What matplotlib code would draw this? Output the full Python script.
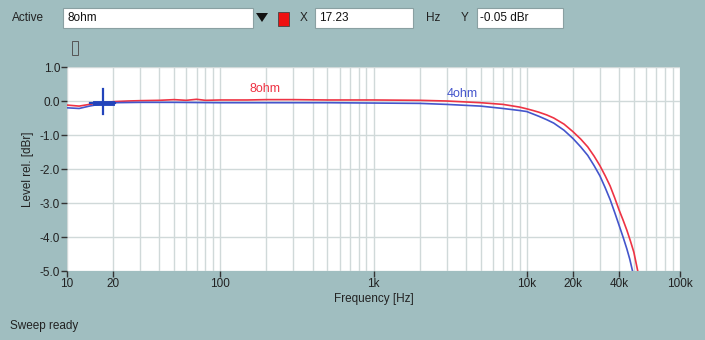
import matplotlib

matplotlib.use("Agg")
import matplotlib.pyplot as plt
from matplotlib.patches import Rectangle, Polygon
from matplotlib.ticker import FixedLocator, LogLocator, NullFormatter

plt.rcParams["font.family"] = ["Liberation Sans", "DejaVu Sans"]

# frequency response
freq_8ohm = [10, 12, 14, 17, 20, 25, 30, 40, 50, 60, 70, 80, 100, 150, 200, 300, 500,
             1000, 2000, 3000, 5000, 7000, 9000, 10000, 11000, 12000, 13500, 15000,
             17500, 20000, 22500, 25000, 27500, 30000, 32500, 35000, 37500, 40000,
             42500, 45000, 47500, 50000, 53000]
level_8ohm = [-0.12, -0.15, -0.10, -0.05, -0.02, 0.0, 0.01, 0.02, 0.04, 0.02, 0.05, 0.02,
              0.03, 0.03, 0.04, 0.04, 0.03, 0.03, 0.02, 0.0, -0.05, -0.10, -0.18, -0.23,
              -0.28, -0.33, -0.41, -0.50, -0.68, -0.90, -1.12, -1.35, -1.62, -1.90,
              -2.20, -2.50, -2.85, -3.20, -3.50, -3.80, -4.12, -4.45, -5.0]

freq_4ohm = [10, 12, 14, 17, 20, 30, 50, 100, 200, 500, 1000, 2000, 3000, 5000, 7000,
             9000, 10000, 12000, 13500, 15000, 17500, 20000, 22500, 25000, 27500, 30000,
             32500, 35000, 37500, 40000, 42500, 45000, 47000, 49000]
level_4ohm = [-0.20, -0.22, -0.15, -0.08, -0.05, -0.04, -0.04, -0.05, -0.05, -0.05, -0.06,
              -0.07, -0.10, -0.15, -0.22, -0.28, -0.31, -0.45, -0.55, -0.65, -0.86, -1.10,
              -1.35, -1.60, -1.90, -2.20, -2.55, -2.90, -3.28, -3.65, -4.00, -4.35, -4.65,
              -5.0]

x_ticks = [10, 20, 100, 1000, 10000, 20000, 40000, 100000]
x_labels = ["10", "20", "100", "1k", "10k", "20k", "40k", "100k"]
y_ticks = [1.0, 0.0, -1.0, -2.0, -3.0, -4.0, -5.0]

cursor_x = 17.23
cursor_y = -0.05

BG = "#a0bec0"
RED = "#ee3344"
BLUE = "#4455cc"
W, H = 705, 340

fig = plt.figure(figsize=(W / 100, H / 100), dpi=100)
fig.patch.set_facecolor(BG)


def px(x, y):
    return x / W, 1 - y / H


ax = fig.add_axes([67 / W, 1 - 271 / H, (680 - 67) / W, (271 - 67) / H])
ax.set_facecolor("white")
ax.set_xscale("log")
ax.set_xlim(10, 100000)
ax.set_ylim(-5.0, 1.0)

ax.xaxis.set_minor_locator(LogLocator(base=10, subs=range(2, 10)))
ax.xaxis.set_minor_formatter(NullFormatter())
ax.grid(True, which="both", axis="x", color="#d0d9d9", lw=1.0)
ax.grid(True, which="major", axis="y", color="#d0d9d9", lw=1.0)
ax.set_axisbelow(True)

ax.xaxis.set_major_locator(FixedLocator(x_ticks))
ax.set_xticklabels(x_labels)
ax.set_yticks(y_ticks)
ax.set_yticklabels([f"{v:.1f}" for v in y_ticks])
ax.tick_params(axis="both", which="major", direction="out", length=4, width=1,
               color="#333333", labelsize=8.5, labelcolor="#222222", pad=1)
ax.tick_params(axis="x", which="minor", length=0)
for s in ax.spines.values():
    s.set_visible(False)

ax.plot(freq_8ohm, level_8ohm, color=RED, lw=1.2)
ax.plot(freq_4ohm, level_4ohm, color=BLUE, lw=1.2)

ax.text(195, 0.34, "8ohm", color=RED, fontsize=9, ha="center", va="center")
ax.text(3800, 0.2, "4ohm", color=BLUE, fontsize=9, ha="center", va="center")

# cursor cross
ax.plot([cursor_x, cursor_x], [cursor_y - 0.33, cursor_y + 0.40], color="#2244bb", lw=1.6)
ax.plot([14.1, 20.6], [cursor_y, cursor_y], color="#2244bb", lw=1.6)
ax.plot([15.2, 19.8], [cursor_y, cursor_y], color="#2244bb", lw=3.5)

ax.set_xlabel("Frequency [Hz]", fontsize=8.5, color="#222222", labelpad=2)
ax.set_ylabel("Level rel. [dBr]", fontsize=8.5, color="#222222", labelpad=4)

# toolbar on top
fig.text(*px(12, 18), "Active", fontsize=8.5, va="center", color="#222222")
fig.add_artist(Rectangle(px(63, 28), 190 / W, 20 / H, transform=fig.transFigure,
                         facecolor="white", edgecolor="#8aa0a2", lw=0.8))
fig.text(*px(67, 18), "8ohm", fontsize=8.5, va="center", color="#111111")
fig.add_artist(Polygon([px(256, 13), px(268, 13), px(262, 22)], closed=True,
                       transform=fig.transFigure, facecolor="#111111", edgecolor="none"))
fig.add_artist(Rectangle(px(278, 26), 11 / W, 14 / H, transform=fig.transFigure,
                         facecolor="#ee1111", edgecolor="#444444", lw=0.6))
fig.text(*px(300, 18), "X", fontsize=8.5, va="center", color="#222222")
fig.add_artist(Rectangle(px(315, 28), 98 / W, 20 / H, transform=fig.transFigure,
                         facecolor="white", edgecolor="#8aa0a2", lw=0.8))
fig.text(*px(319, 18), "17.23", fontsize=8.5, va="center", color="#111111")
fig.text(*px(426, 18), "Hz", fontsize=8.5, va="center", color="#222222")
fig.text(*px(461, 18), "Y", fontsize=8.5, va="center", color="#222222")
fig.add_artist(Rectangle(px(477, 28), 86 / W, 20 / H, transform=fig.transFigure,
                         facecolor="white", edgecolor="#8aa0a2", lw=0.8))
fig.text(*px(480, 18), "-0.05 dBr", fontsize=8.5, va="center", color="#111111")
fig.add_artist(Rectangle(px(72, 55), 6 / W, 14 / H, transform=fig.transFigure,
                         facecolor="none", edgecolor="#555555", lw=0.7))

fig.text(*px(10, 326), "Sweep ready", fontsize=8.5, va="center", color="#222222")

fig.savefig("out.png", dpi=100, facecolor=BG)
